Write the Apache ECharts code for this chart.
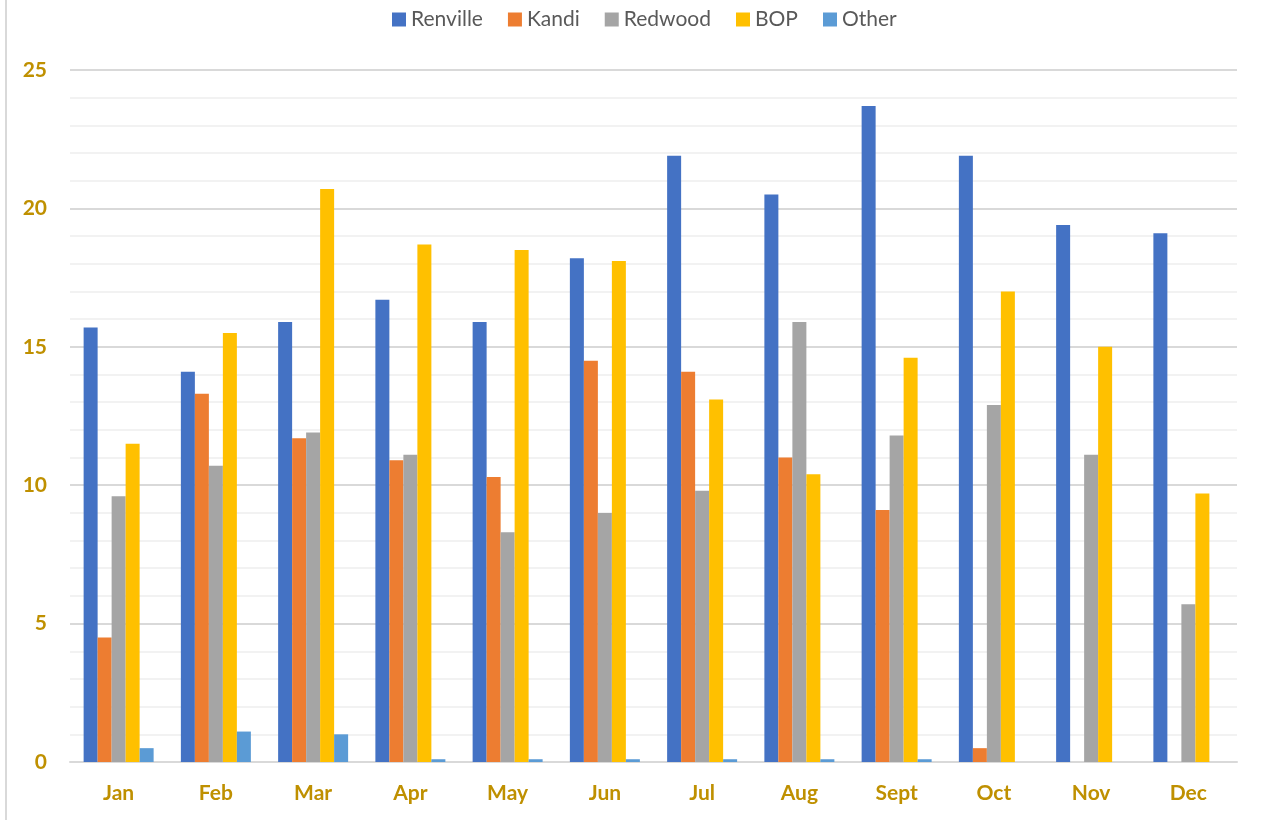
<!DOCTYPE html>
<html>
<head>
<meta charset="utf-8">
<title>Monthly chart</title>
<script src="https://cdn.jsdelivr.net/npm/echarts@6/dist/echarts.min.js"></script>
<style>
  html, body { margin: 0; padding: 0; background: #fff; }
  #chart { width: 1265px; height: 820px; }
</style>
</head>
<body>
<div id="chart"></div>
<script>
var months = ['Jan', 'Feb', 'Mar', 'Apr', 'May', 'Jun', 'Jul', 'Aug', 'Sept', 'Oct', 'Nov', 'Dec'];

var renville = [15.7, 14.1, 15.9, 16.7, 15.9, 18.2, 21.9, 20.5, 23.7, 21.9, 19.4, 19.1];
var kandi    = [4.5, 13.3, 11.7, 10.9, 10.3, 14.5, 14.1, 11.0, 9.1, 0.5, null, null];
var redwood  = [9.6, 10.7, 11.9, 11.1, 8.3, 9.0, 9.8, 15.9, 11.8, 12.9, 11.1, 5.7];
var bop      = [11.5, 15.5, 20.7, 18.7, 18.5, 18.1, 13.1, 10.4, 14.6, 17.0, 15.0, 9.7];
var other    = [0.5, 1.1, 1.0, 0.1, 0.1, 0.1, 0.1, 0.1, 0.1, null, null, null];

var seriesNames = ['Renville', 'Kandi', 'Redwood', 'BOP', 'Other'];
var seriesColors = ['#4472C4', '#ED7D31', '#A5A5A5', '#FFC000', '#5B9BD5'];
var seriesData = [renville, kandi, redwood, bop, other];

var labelFont = 'Lato, "Open Sans", sans-serif';
var gold = '#BF9000';

var myChart = echarts.init(document.getElementById('chart'));

// one bar series per site
var series = [];
for (var i = 0; i < seriesNames.length; i++) {
    series.push({
        name: seriesNames[i],
        type: 'bar',
        data: seriesData[i],
        barWidth: 14,
        barGap: '0%',
        itemStyle: { color: seriesColors[i] }
    });
}

var option = {
    animation: false,
    color: seriesColors,
    legend: {
        top: 4,
        left: 387,
        itemWidth: 14,
        itemHeight: 14,
        itemGap: 25,
        icon: 'rect',
        textStyle: { color: '#595959', fontSize: 21, fontFamily: labelFont }
    },
    grid: { left: 70, right: 28, top: 70, bottom: 58, containLabel: false },
    xAxis: {
        type: 'category',
        data: months,
        axisLine: { lineStyle: { color: '#D9D9D9', width: 2 } },
        axisTick: { show: false },
        axisLabel: {
            color: gold,
            fontSize: 21,
            fontWeight: 'bold',
            fontFamily: labelFont,
            margin: 21
        }
    },
    yAxis: {
        type: 'value',
        min: 0,
        max: 25,
        interval: 5,
        axisLine: { show: false },
        axisTick: { show: false },
        axisLabel: {
            color: gold,
            fontSize: 21,
            fontWeight: 'bold',
            fontFamily: labelFont,
            margin: 23
        },
        splitLine: { lineStyle: { color: '#D9D9D9', width: 2 } },
        minorTick: { show: false, splitNumber: 5 },
        minorSplitLine: { show: true, lineStyle: { color: '#F2F2F2', width: 2 } }
    },
    graphic: [{
        type: 'rect',
        shape: { x: 5, y: 0, width: 2, height: 820 },
        style: { fill: '#D9D9D9' },
        silent: true
    }],
    series: series
};

myChart.setOption(option);
</script>
</body>
</html>
